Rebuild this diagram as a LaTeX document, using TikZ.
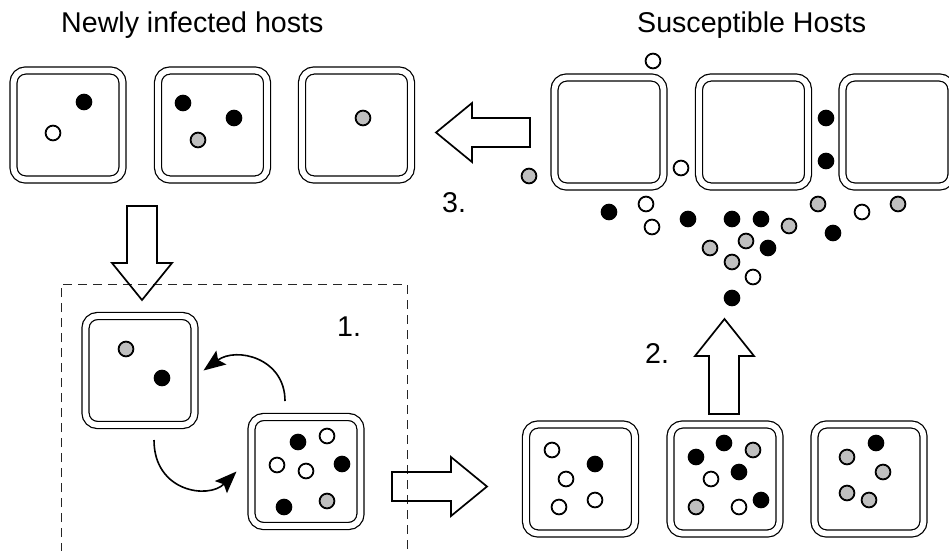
\documentclass[tikz,border=0pt]{standalone}
\usepackage{fontspec}
\setmainfont{Liberation Sans}
\usetikzlibrary{arrows.meta}
\begin{document}
\begin{tikzpicture}[x=1pt,y=-1pt,
  host/.style={draw, line width=1.25pt, double=white, double distance=5.8pt,
    rounded corners=12pt, minimum size=109pt, inner sep=0pt, outer sep=0pt},
  lbl/.style={font=\fontsize{28.6}{34}\selectfont, inner sep=0pt},
  bdot/.style={draw=black, fill=black, line width=1.8pt},
  wdot/.style={draw=black, fill=white, line width=1.8pt},
  gdot/.style={draw=black, fill=gray!50, line width=1.8pt},
  bigarrow/.style={draw, line width=1.7pt, line join=miter},
  curvearrow/.style={line width=1.6pt, -{Stealth[length=22pt,width=17pt,inset=4pt]}},
  dashbox/.style={draw=black!85, line width=1pt, dash pattern=on 9pt off 6pt}
]
\useasboundingbox (0,0) rectangle (949,550);

% titles
\node[lbl, anchor=base west] (title1) at (61,32) {Newly infected hosts};
\node[lbl, anchor=base west] (title2) at (637,32) {Susceptible Hosts};

% step labels
\node[lbl, anchor=base west] (step1) at (337,336) {1.};
\node[lbl, anchor=base west] (step2) at (645,363) {2.};
\node[lbl, anchor=base west] (step3) at (442,212) {3.};

% hosts: newly infected
\node[host] (T1) at (68,125) {};
\node[host] (T2) at (212.5,125) {};
\node[host] (T3) at (356.5,125) {};
% susceptible
\node[host] (S1) at (609,132) {};
\node[host] (S2) at (753.5,132) {};
\node[host] (S3) at (897,132) {};
% step 1 hosts
\node[host] (L1) at (140,370.5) {};
\node[host] (L2) at (306,471.5) {};
% bottom right hosts
\node[host] (R1) at (580.5,479) {};
\node[host] (R2) at (725,479) {};
\node[host] (R3) at (869,479) {};

\def\r{7.4}
% dots in T hosts
\draw[bdot] (84,102) circle (\r);
\draw[wdot] (53,133) circle (\r);
\draw[bdot] (183,103) circle (\r);
\draw[bdot] (234,118) circle (\r);
\draw[gdot] (198,140) circle (\r);
\draw[gdot] (363,118) circle (\r);

% scattered dots
\draw[wdot] (653,61) circle (\r);
\draw[gdot] (529,176) circle (\r);
\draw[wdot] (681,168) circle (\r);
\draw[bdot] (826,118) circle (\r);
\draw[bdot] (826,161) circle (\r);
\draw[bdot] (609,212) circle (\r);
\draw[wdot] (646,204) circle (\r);
\draw[wdot] (652,227) circle (\r);
\draw[bdot] (688,219) circle (\r);
\draw[bdot] (732,219) circle (\r);
\draw[bdot] (761,219) circle (\r);
\draw[gdot] (789,226) circle (\r);
\draw[gdot] (818,204) circle (\r);
\draw[wdot] (862,212) circle (\r);
\draw[gdot] (898,204) circle (\r);
\draw[bdot] (833,233) circle (\r);
\draw[gdot] (746,241) circle (\r);
\draw[bdot] (768,248) circle (\r);
\draw[gdot] (710,248) circle (\r);
\draw[gdot] (732,262) circle (\r);
\draw[wdot] (753,277) circle (\r);
\draw[bdot] (732,298) circle (\r);

% L hosts
\draw[gdot] (126,349) circle (\r);
\draw[bdot] (162,378) circle (\r);
\draw[bdot] (298,442) circle (\r);
\draw[wdot] (327,436) circle (\r);
\draw[wdot] (277,465) circle (\r);
\draw[wdot] (306,471) circle (\r);
\draw[bdot] (342,464) circle (\r);
\draw[bdot] (284,507) circle (\r);
\draw[gdot] (327,501) circle (\r);

% R hosts
\draw[wdot] (552,450) circle (\r);
\draw[bdot] (595,464) circle (\r);
\draw[wdot] (566,479) circle (\r);
\draw[wdot] (559,507) circle (\r);
\draw[wdot] (595,500) circle (\r);

\draw[bdot] (696,457) circle (\r);
\draw[bdot] (724,443) circle (\r);
\draw[gdot] (753,450) circle (\r);
\draw[bdot] (739,472) circle (\r);
\draw[wdot] (711,479) circle (\r);
\draw[gdot] (696,507) circle (\r);
\draw[wdot] (739,507) circle (\r);
\draw[bdot] (761,500) circle (\r);

\draw[bdot] (876,443) circle (\r);
\draw[gdot] (847,457) circle (\r);
\draw[gdot] (883,472) circle (\r);
\draw[gdot] (847,493) circle (\r);
\draw[gdot] (869,500) circle (\r);

% dashed frame of step 1
\draw[dashbox] (61,552) -- (61,284) -- (407,284) -- (407,552);

% big hollow arrows
% 3. leftward
\draw[bigarrow] (530,118) -- (472,118) -- (472,103) -- (436,132.5) -- (472,162) -- (472,147) -- (530,147) -- cycle;
% down
\draw[bigarrow] (127,206) -- (157,206) -- (157,263) -- (172,263) -- (142,300) -- (112,263) -- (127,263) -- cycle;
% right
\draw[bigarrow] (392,472) -- (451,472) -- (451,457) -- (487,486.5) -- (451,516) -- (451,501) -- (392,501) -- cycle;
% 2. up
\draw[bigarrow] (709,414) -- (709,356) -- (695,356) -- (724.5,319) -- (754,356) -- (739,356) -- (739,414) -- cycle;

% curved arrows of step 1
\coordinate (c1s) at ([xshift=-21pt,yshift=16pt]L2.north);
\coordinate (c1e) at ([xshift=9pt]L1.east);
\draw[curvearrow] (c1s) .. controls +(0,-43) and +(33,-24) .. (c1e);
\coordinate (c2s) at ([xshift=14pt,yshift=-15pt]L1.south);
\coordinate (c2e) at ([xshift=-15pt]L2.west);
\draw[curvearrow] (c2s) .. controls +(0,52) and +(-28,28) .. (c2e);
\end{tikzpicture}
\end{document}
